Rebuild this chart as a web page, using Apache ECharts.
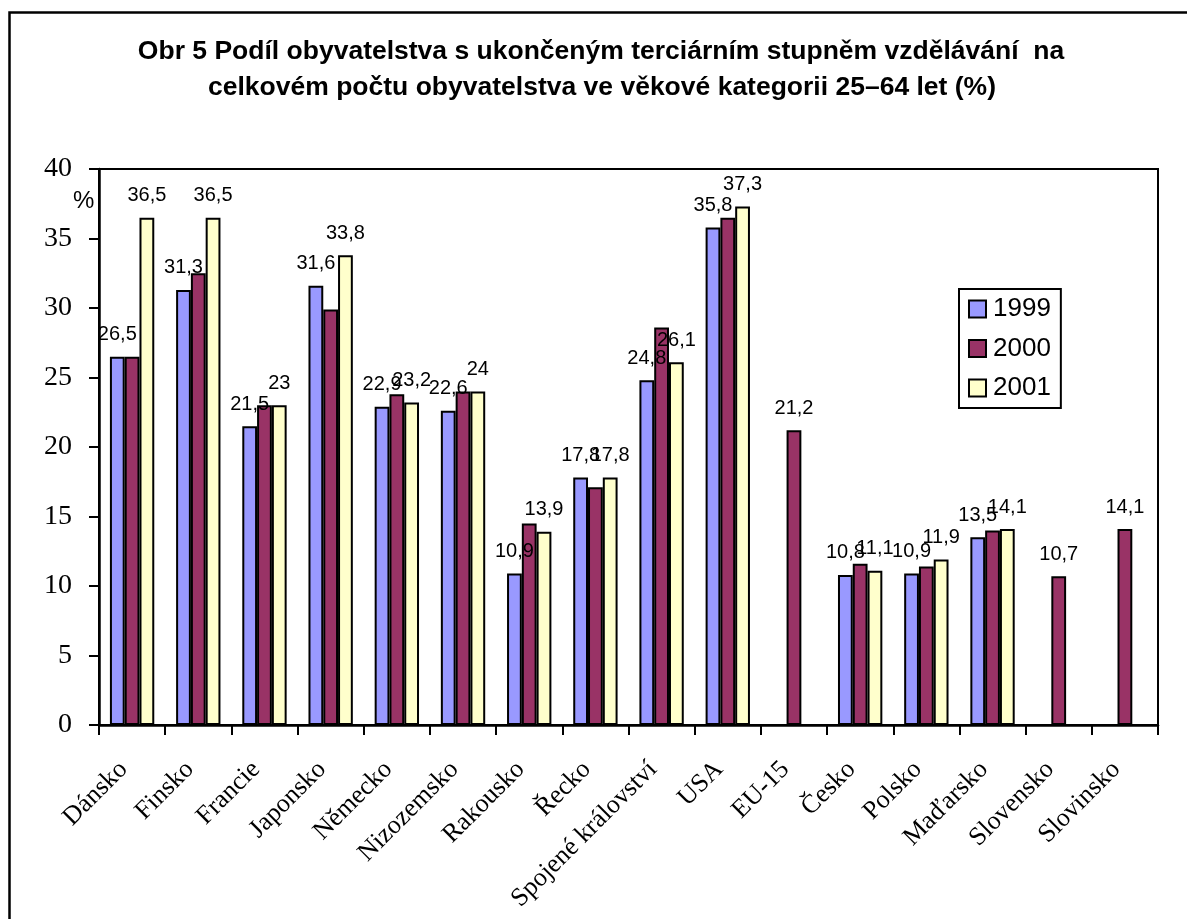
<!DOCTYPE html>
<html>
<head>
<meta charset="utf-8">
<script src="https://cdn.jsdelivr.net/npm/echarts@6/dist/echarts.min.js"></script>
<style>
html,body{margin:0;padding:0;background:#fff;}
#chart{width:1187px;height:919px;}
</style>
</head>
<body>
<div id="chart"></div>
<script>
const categories = ['Dánsko','Finsko','Francie','Japonsko','Německo','Nizozemsko','Rakousko','Řecko','Spojené království','USA','EU-15','Česko','Polsko','Maďarsko','Slovensko','Slovinsko'];
const seriesNames = ['1999','2000','2001'];
const values1999 = [26.5, 31.3, 21.5, 31.6, 22.9, 22.6, 10.9, 17.8, 24.8, 35.8, null, 10.8, 10.9, 13.5, null, null];
const values2000 = [26.5, 32.5, 23.0, 29.9, 23.8, 24.0, 14.5, 17.1, 28.6, 36.5, 21.2, 11.6, 11.4, 14.0, 10.7, 14.1];
const values2001 = [36.5, 36.5, 23.0, 33.8, 23.2, 24.0, 13.9, 17.8, 26.1, 37.3, null, 11.1, 11.9, 14.1, null, null];
const yTicks = [0, 5, 10, 15, 20, 25, 30, 35, 40];
const titleLines = ['Obr 5 Podíl obyvatelstva s ukončeným terciárním stupněm vzdělávání  na', 'celkovém počtu obyvatelstva ve věkové kategorii 25–64 let (%)'];
const colors = ['#9999FF', '#993366', '#FFFFCC'];

function fmt(v){ return String(v).replace('.', ','); }

const labelStyle = {
  position: 'top', distance: 12, color: '#000',
  fontFamily: 'Liberation Sans, Arial, sans-serif', fontSize: 20,
  formatter: p => fmt(p.value)
};

function buildData(vals, showFn){
  return vals.map((v, i) => ({
    value: v,
    label: { show: v !== null && showFn(i) }
  }));
}

const data1999 = buildData(values1999, () => true);
const data2000 = buildData(values2000, i => values1999[i] === null && values2001[i] === null);
const data2001 = buildData(values2001, () => true);

const titleFont = { fontFamily: 'Liberation Sans, Arial, sans-serif', fontWeight: 'bold', fontSize: 26.5, fill: '#000', textAlign: 'center', textVerticalAlign: 'middle' };

const chart = echarts.init(document.getElementById('chart'), null, {renderer: 'canvas'});
chart.setOption({
  backgroundColor: '#fff',
  animation: false,
  legend: {
    orient: 'vertical', left: 959, top: 289,
    data: seriesNames,
    itemWidth: 17, itemHeight: 17, itemGap: 13.5,
    icon: 'rect',
    borderColor: '#000', borderWidth: 2,
    padding: [7, 10, 7, 9],
    itemStyle: { borderColor: '#000', borderWidth: 2 },
    textStyle: { fontFamily: 'Liberation Sans, Arial, sans-serif', fontSize: 26, color: '#000', padding: [0,0,0,2] }
  },
  grid: { left: 99, right: 29, top: 169, bottom: 194, show: true, borderColor: '#000', borderWidth: 2, backgroundColor: 'transparent' },
  xAxis: {
    type: 'category', data: categories,
    axisLine: { lineStyle: { color: '#000', width: 2.5 } },
    axisTick: { show: true, alignWithLabel: false, length: 10, lineStyle: { color: '#000', width: 2 } },
    axisLabel: { rotate: 45, margin: 32, interval: 0, padding: [0, 12, 0, 0], color: '#000', fontFamily: 'Liberation Serif, Times New Roman, serif', fontSize: 26 }
  },
  yAxis: {
    type: 'value', min: yTicks[0], max: yTicks[yTicks.length-1], interval: yTicks[1]-yTicks[0],
    axisLine: { show: true, lineStyle: { color: '#000', width: 2.5 } },
    axisTick: { show: true, length: 10, lineStyle: { color: '#000', width: 2 } },
    splitLine: { show: false },
    axisLabel: { margin: 27, color: '#000', fontFamily: 'Liberation Serif, Times New Roman, serif', fontSize: 28 }
  },
  graphic: [
    { type: 'rect', left: 7, top: 10, shape: { width: 1300, height: 1000 }, style: { fill: 'none', stroke: '#000', lineWidth: 2.5 }, silent: true },
    { type: 'text', x: 601, y: 52, style: Object.assign({ text: titleLines[0] }, titleFont) },
    { type: 'text', x: 602, y: 88, style: Object.assign({ text: titleLines[1] }, titleFont) },
    { type: 'text', left: 73, top: 189, style: { text: '%', fontFamily: 'Liberation Sans, Arial, sans-serif', fontSize: 24, fill: '#000' } }
  ],
  series: [
    { name: seriesNames[0], type: 'bar', data: data1999, barGap: '0%', barCategoryGap: '33%', itemStyle: { color: colors[0], borderColor: '#000', borderWidth: 2 }, label: labelStyle },
    { name: seriesNames[1], type: 'bar', data: data2000, barGap: '0%', barCategoryGap: '33%', itemStyle: { color: colors[1], borderColor: '#000', borderWidth: 2 }, label: labelStyle },
    { name: seriesNames[2], type: 'bar', data: data2001, barGap: '0%', barCategoryGap: '33%', itemStyle: { color: colors[2], borderColor: '#000', borderWidth: 2 }, label: labelStyle }
  ]
});
</script>
</body>
</html>
